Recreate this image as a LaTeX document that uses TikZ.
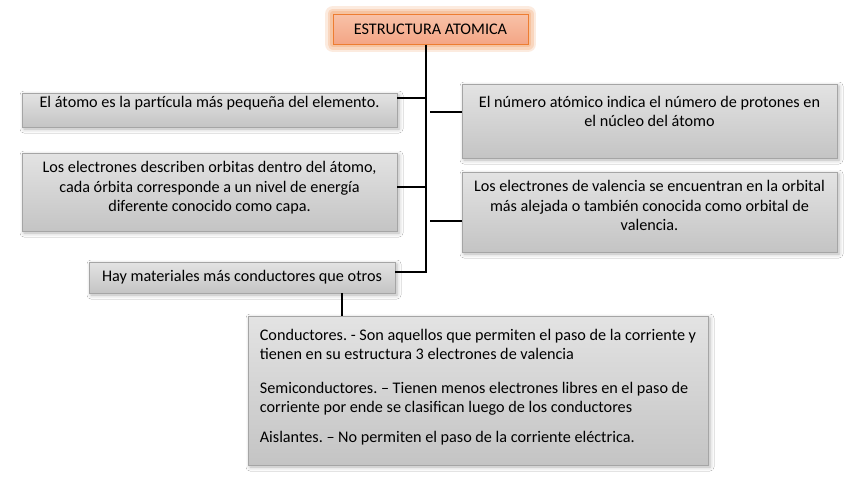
\documentclass[tikz,border=0pt]{standalone}
\usepackage{fontspec}
\setmainfont{Carlito}
\usetikzlibrary{positioning, calc, shadows.blur}
\definecolor{boxtop}{HTML}{E3E3E3}
\definecolor{boxbot}{HTML}{C4C4C4}
\definecolor{boxline}{HTML}{A5A5A5}
\definecolor{ttltop}{HTML}{F8C2A8}
\definecolor{ttlbot}{HTML}{F4A585}
\definecolor{ttlline}{HTML}{ED7D31}
\definecolor{ttlglow}{HTML}{F4B183}

\begin{document}
\frenchspacing
\begin{tikzpicture}[x=1pt, y=-1pt,
  every node/.style={font=\fontsize{16.2pt}{19.5pt}\selectfont, text=black},
  graybox/.style={draw=boxline, line width=0.8pt, top color=boxtop, bottom color=boxbot,
    inner xsep=0pt, inner ysep=0pt, align=center,
    blur shadow={shadow xshift=2pt, shadow yshift=-2pt, shadow blur radius=4pt, shadow opacity=30}},
  titlebox/.style={draw=ttlline, line width=1pt, top color=ttltop, bottom color=ttlbot,
    inner sep=0pt, minimum width=195pt, minimum height=30pt,
    preaction={draw=ttlglow, line width=16pt, line join=round, opacity=0.25},
    preaction={draw=ttlglow, line width=11pt, line join=round, opacity=0.35},
    preaction={draw=ttlglow, line width=6pt, line join=round, opacity=0.5}},
  link/.style={black, line width=1.2pt}]

% Canvas
\useasboundingbox (0,0) rectangle (845,482);
\fill[white] (0,0) rectangle (845,482);

% Title
\node[titlebox] (title) at (430.5,29) {ESTRUCTURA ATOMICA};

% Left column
\node[graybox, minimum width=375pt, minimum height=34pt, text depth=17pt] (atomo) at (209.5,110)
  {El átomo es la partícula más pequeña del elemento.};
\node[graybox, minimum width=375pt, minimum height=78pt, text depth=11pt] (orbitas) at (209.5,192)
  {Los electrones describen orbitas dentro del átomo,\\ cada órbita corresponde a un nivel de energía\\ diferente conocido como capa.};
\node[graybox, minimum width=306pt, minimum height=31pt] (materiales) at (242,277.5)
  {Hay materiales más conductores que otros};

% Right column
\node[graybox, minimum width=375pt, minimum height=74pt, text depth=19pt] (numero) at (649.5,121)
  {El número atómico indica el número de protones en\\ el núcleo del átomo};
\node[graybox, minimum width=375pt, minimum height=80pt, text depth=13pt] (valencia) at (649.5,212)
  {Los electrones de valencia se encuentran en la orbital\\ más alejada o también conocida como orbital de\\ valencia.};

% Bottom box
\node[graybox, align=left, minimum width=460pt, minimum height=149pt, text depth=10pt] (tipos) at (478,390.5)
  {Conductores. - Son aquellos que permiten el paso de la corriente y\\
   tienen en su estructura 3 electrones de valencia\\[14pt]
   Semiconductores. – Tienen menos electrones libres en el paso de\\
   corriente por ende se clasifican luego de los conductores\\[10pt]
   Aislantes. – No permiten el paso de la corriente eléctrica.};

% Connectors
\coordinate (trunk) at (426,272);
\coordinate (j1) at (426,98);
\coordinate (j2) at (430,112);
\coordinate (j3) at (426,187);
\coordinate (j4) at (430,221);
\coordinate (jb) at (342,0);

\draw[link] (title.south -| trunk) -- (trunk) -- (trunk -| materiales.east);
\draw[link] (j1) -- (j1 -| atomo.east);
\draw[link] (j2) -- (j2 -| numero.west);
\draw[link] (j3) -- (j3 -| orbitas.east);
\draw[link] (j4) -- (j4 -| valencia.west);
\draw[link] (materiales.south -| jb) -- (tipos.north -| jb);

\end{tikzpicture}
\end{document}
